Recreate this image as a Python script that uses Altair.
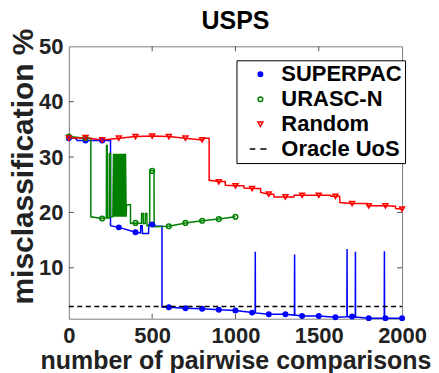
import altair as alt
import pandas as pd

FONT = "Liberation Sans"

# ---------------- data ----------------
series_names = ["SUPERPAC", "URASC-N", "Random", "Oracle UoS"]

# SUPERPAC line
sp_x = [0, 40, 50, 100, 200, 250, 250, 300, 400, 430, 432, 440, 442, 478, 480, 515, 517, 559, 559,
        600, 700, 800, 900, 1000, 1100, 1118, 1119, 1120, 1200, 1300, 1354, 1355, 1356, 1400, 1500,
        1600, 1669, 1670, 1671, 1700, 1719, 1720, 1721, 1800, 1893, 1894, 1895, 1900, 2000]
sp_y = [33.4, 33.4, 33.0, 33.0, 33.0, 33.0, 17.6, 17.3, 16.4, 16.3, 17.6, 17.6, 16.2, 16.2, 17.8, 17.8, 17.5, 17.5, 2.9,
        2.85, 2.7, 2.6, 2.4, 2.3, 1.9, 1.85, 12.9, 1.85, 1.6, 1.6, 1.45, 12.4, 1.45, 1.3, 1.3,
        1.05, 1.15, 13.4, 1.15, 1.2, 1.1, 12.9, 1.1, 0.9, 0.9, 13.0, 0.9, 0.9, 0.9]
sp_mark_x = [0, 100, 200, 300, 400, 500, 600, 700, 800, 900, 1000, 1100, 1200, 1300, 1400, 1500,
             1600, 1700, 1800, 1900, 2000]
sp_mark_y = [33.4, 33.0, 33.0, 17.3, 16.4, 17.8, 2.85, 2.7, 2.6, 2.4, 2.3, 1.9, 1.6, 1.6, 1.3, 1.3,
             1.05, 1.2, 0.9, 0.9, 0.9]

# URASC-N line
ur_x = [0, 100, 132, 132, 200, 225, 226, 230, 231, 242, 243, 250, 251, 264,
        268, 272, 276, 280, 284, 288, 292, 296, 300, 304, 308, 312, 316, 320, 324, 328, 332, 336, 340, 344,
        346, 370, 370, 400, 436, 437, 446, 447, 458, 459, 468, 469, 485, 486, 511, 512, 600, 700, 800, 900, 1000]
ur_y = [33.7, 33.4, 33.4, 19.2, 18.9, 19.0, 32.1, 32.1, 19.0, 19.0, 30.6, 30.6, 19.2, 19.2,
        30.6, 19.2, 30.6, 19.2, 30.6, 19.2, 30.6, 19.2, 30.6, 19.2, 30.6, 19.2, 30.6, 19.2, 30.6, 19.2, 30.6, 19.2, 30.6, 19.2,
        21.4, 21.4, 18.0, 18.1, 18.0, 19.8, 19.8, 18.0, 18.0, 19.8, 19.8, 17.6, 17.6, 27.6, 27.5, 17.4, 17.5, 18.1, 18.5, 18.8, 19.2]
ur_mark_x = [0, 100, 200, 400, 500, 600, 700, 800, 900, 1000]
ur_mark_y = [33.7, 33.4, 18.9, 18.1, 27.5, 17.5, 18.1, 18.5, 18.8, 19.2]

# Random line
rd_x = [0, 100, 200, 300, 400, 500, 600, 700, 800, 810, 842, 842, 900, 938, 940, 1000, 1050, 1052, 1100,
        1150, 1152, 1200, 1230, 1232, 1300, 1350, 1352, 1400, 1500, 1570, 1572, 1600, 1625, 1627, 1700,
        1790, 1792, 1800, 1900, 1960, 1962, 2000]
rd_y = [33.4, 33.5, 33.1, 33.4, 33.7, 33.8, 33.7, 33.4, 33.1, 33.4, 33.4, 25.8, 25.6, 25.6, 24.9, 24.8, 24.8, 24.4, 24.3,
        24.3, 23.6, 23.3, 23.3, 22.8, 22.8, 22.8, 23.1, 23.1, 23.1, 23.1, 22.9, 22.9, 22.9, 21.8, 21.6,
        21.6, 21.2, 21.2, 21.2, 21.1, 20.7, 20.6]
rd_mark_x = [0, 100, 200, 300, 400, 500, 600, 700, 800, 900, 1000, 1100, 1200, 1300, 1400, 1500,
             1600, 1700, 1800, 1900, 2000]
rd_mark_y = [33.4, 33.5, 33.1, 33.4, 33.7, 33.8, 33.7, 33.4, 33.1, 25.5, 24.8, 24.3, 23.3, 22.8, 23.1, 23.1,
             22.9, 21.6, 21.2, 21.2, 20.6]

# Oracle UoS
oracle_x = [0, 2000]
oracle_y = [3.0, 3.0]

x_ticks = [0, 500, 1000, 1500, 2000]
y_ticks = [10, 20, 30, 40, 50]

# ---------------- tables ----------------
lines = []
for name, xs, ys in [("SUPERPAC", sp_x, sp_y), ("URASC-N", ur_x, ur_y), ("Random", rd_x, rd_y)]:
    for i, (a, b) in enumerate(zip(xs, ys)):
        lines.append({"series": name, "x": a, "y": b, "i": i})
lines_df = pd.DataFrame(lines)

marks = []
for name, xs, ys in [("SUPERPAC", sp_mark_x, sp_mark_y), ("URASC-N", ur_mark_x, ur_mark_y),
                     ("Random", rd_mark_x, rd_mark_y)]:
    for a, b in zip(xs, ys):
        marks.append({"series": name, "x": a, "y": b})
marks_df = pd.DataFrame(marks)

oracle_df = pd.DataFrame({"x": oracle_x, "y": oracle_y})

colors = ["#0000ff", "#008000", "#ff0000", "#000000"]
xscale = alt.Scale(domain=[0, 2000], nice=False, zero=False)
yscale = alt.Scale(domain=[0.8, 50], nice=False, zero=False)

xaxis = alt.Axis(values=x_ticks, title="number of pairwise comparisons", labelFontSize=22,
                 labelFont=FONT, labelFontWeight="bold", labelColor="#222222", labelPadding=7,
                 titleFontSize=25, titleFont=FONT, titleFontWeight="bold", titleColor="#222222",
                 titlePadding=2, ticks=False, domain=False, grid=False, format="d", labelFlush=False)
yaxis = alt.Axis(values=y_ticks, title="misclassification %", labelFontSize=22,
                 labelFont=FONT, labelFontWeight="bold", labelColor="#222222", labelPadding=6,
                 titleFontSize=30, titleFont=FONT, titleFontWeight="bold", titleColor="#222222",
                 titlePadding=0, titleY=120, ticks=False, domain=False, grid=False, labelFlush=False)

legend = alt.Legend(orient="none", legendX=168, legendY=14, title=None, labelFontSize=22,
                    labelFont=FONT, labelFontWeight="bold", labelColor="#000000", padding=3,
                    rowPadding=3, symbolOffset=10, labelOffset=10, strokeColor="#000000",
                    fillColor="#ffffff", symbolStrokeWidth=1.5, labelLimit=300)

color_scale = alt.Scale(domain=series_names, range=colors)

line_layer = alt.Chart(lines_df).mark_line(strokeWidth=1.5).encode(
    x=alt.X("x:Q", scale=xscale, axis=xaxis),
    y=alt.Y("y:Q", scale=yscale, axis=yaxis),
    color=alt.Color("series:N", scale=color_scale, legend=legend),
    order="i:Q",
)

point_layer = alt.Chart(marks_df).mark_point(filled=False, strokeWidth=1.5, opacity=1).encode(
    x=alt.X("x:Q", scale=xscale),
    y=alt.Y("y:Q", scale=yscale),
    color=alt.Color("series:N", scale=color_scale, legend=legend),
    shape=alt.Shape("series:N", scale=alt.Scale(domain=series_names,
                    range=["circle", "circle", "triangle-down", "M-4.2,0H-2M0,0H2.4"]), legend=legend),
    fill=alt.Fill("series:N", scale=alt.Scale(domain=series_names,
                  range=["#0000ff", "transparent", "transparent", "transparent"]), legend=legend),
    size=alt.Size("series:N", scale=alt.Scale(domain=series_names, range=[20, 26, 40, 20]), legend=legend),
)

oracle_layer = alt.Chart(oracle_df).mark_line(color="black", strokeWidth=1.5, strokeDash=[5, 3.5]).encode(
    x=alt.X("x:Q", scale=xscale),
    y=alt.Y("y:Q", scale=yscale),
)

# inward tick marks (MATLAB style)
ytk = pd.DataFrame({"y": y_ticks[:-1]})
xtk = pd.DataFrame({"x": x_ticks[1:-1]})
tick_left = alt.Chart(ytk).mark_rule(color="#555555").encode(
    y="y:Q", x=alt.value(0), x2=alt.value(5))
tick_right = alt.Chart(ytk).mark_rule(color="#555555").encode(
    y="y:Q", x=alt.value(329), x2=alt.value(334))
tick_bottom = alt.Chart(xtk).mark_rule(color="#555555").encode(
    x="x:Q", y=alt.value(268), y2=alt.value(273))
tick_top = alt.Chart(xtk).mark_rule(color="#555555").encode(
    x="x:Q", y=alt.value(0), y2=alt.value(5))

chart = alt.layer(
    tick_left, tick_right, tick_bottom, tick_top,
    line_layer, point_layer, oracle_layer
).properties(
    width=334, height=273, padding=0,
    title=alt.TitleParams("USPS", fontSize=25, font=FONT, fontWeight="bold", color="#000000",
                          anchor="middle", offset=-6),
).configure_view(
    stroke="#808080", strokeWidth=1
)

chart.save("out.html", embed_options={"renderer": "svg", "actions": False})
